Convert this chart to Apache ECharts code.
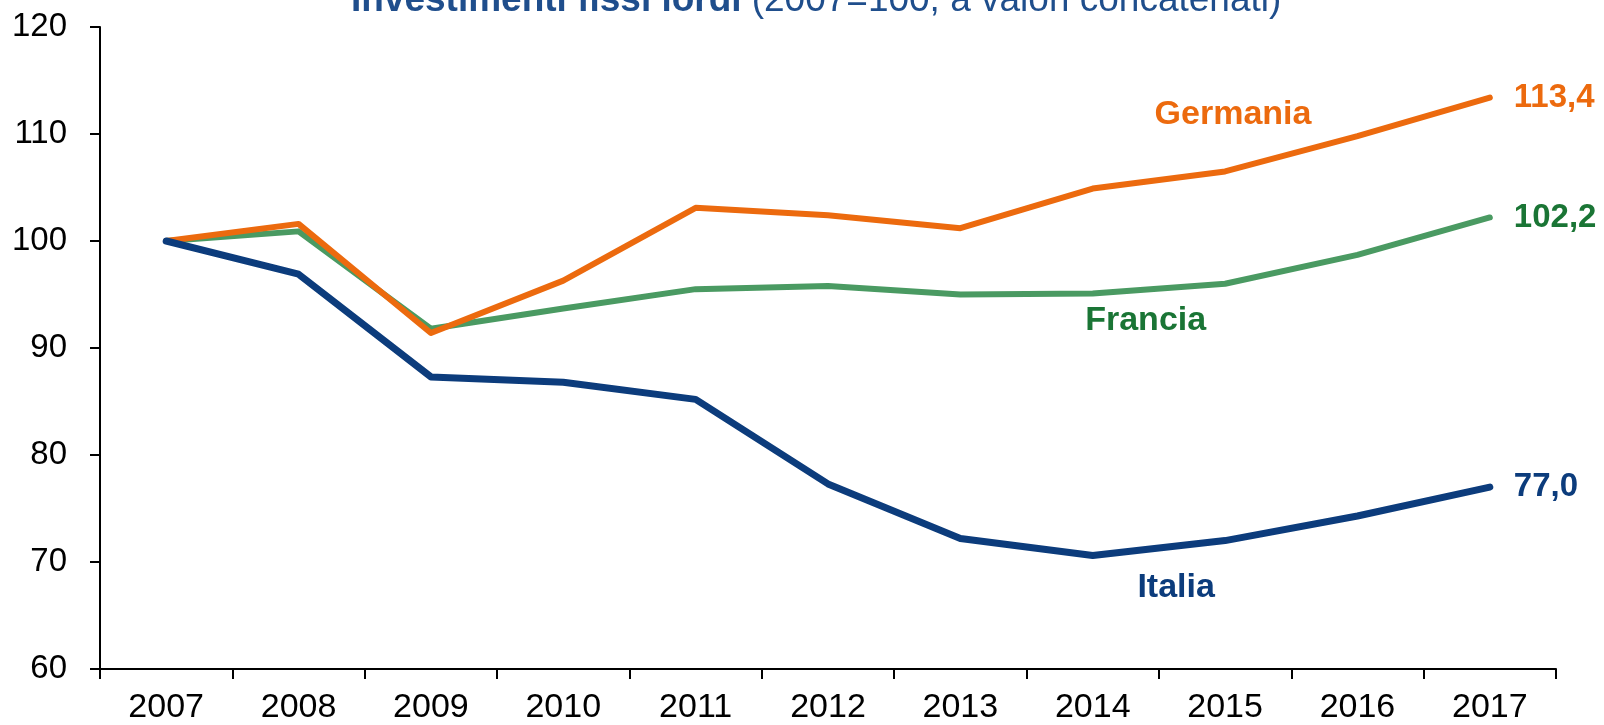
<html>
<head>
<meta charset="utf-8">
<script src="https://cdn.jsdelivr.net/npm/echarts@6/dist/echarts.min.js"></script>
<style>
  html, body { margin: 0; padding: 0; background: #fff; }
  #chart { width: 1604px; height: 725px; }
</style>
</head>
<body>
<div id="chart"></div>
<script>
var years = ['2007','2008','2009','2010','2011','2012','2013','2014','2015','2016','2017'];
var germania = [100, 101.6, 91.4, 96.3, 103.1, 102.4, 101.2, 104.9, 106.5, 109.8, 113.4];
var francia = [100, 100.9, 91.8, 93.7, 95.5, 95.8, 95.0, 95.1, 96.0, 98.7, 102.2];
var italia = [100, 96.9, 87.3, 86.8, 85.2, 77.3, 72.2, 70.6, 72.0, 74.3, 77.0];

var FONT = '"Liberation Sans", Arial, sans-serif';

// series name labels: [name, category index (fractional), value, colour]
var nameLabels = [
	['Germania', 8.06, 111.8, '#EC6A0E'],
	['Francia', 7.40, 92.55, '#1A7535'],
	['Italia', 7.63, 67.6, '#0C3C7C']
];

function fmt(v) {
	return v.toFixed(1).replace('.', ',');
}

function lineSeries(name, data, lineColor, textColor, width) {
	return {
		name: name,
		type: 'line',
		data: data,
		symbol: 'none',
		lineStyle: { color: lineColor, width: width, cap: 'round', join: 'round' },
		endLabel: {
			show: true,
			distance: 24,
			color: textColor,
			fontFamily: FONT,
			fontWeight: 'bold',
			fontSize: 33,
			formatter: function (p) { return fmt(p.value); }
		}
	};
}

var chart = echarts.init(document.getElementById('chart'));
var option = {
	animation: false,
	title: {
		text: '{b|Investimenti fissi lordi}  {n|(2007=100, a valori concatenati)}',
		left: 346,
		top: -23,
		textStyle: {
			rich: {
				b: { fontFamily: FONT, fontWeight: 'bold', fontSize: 37, color: '#1F4E8C' },
				n: { fontFamily: FONT, fontWeight: 'normal', fontSize: 37, color: '#1F4E8C' }
			}
		}
	},
	grid: { left: 100, right: 48, top: 27, bottom: 55 },
	xAxis: {
		type: 'category',
		data: years,
		boundaryGap: true,
		axisLine: { lineStyle: { color: '#000', width: 2 } },
		axisTick: { show: true, length: 10, lineStyle: { color: '#000', width: 2 } },
		axisLabel: { color: '#000', fontFamily: FONT, fontSize: 34, margin: 22 }
	},
	yAxis: {
		type: 'value',
		min: 60,
		max: 120,
		interval: 10,
		splitLine: { show: false },
		axisLine: { show: true, lineStyle: { color: '#000', width: 2 } },
		axisTick: { show: true, length: 10, lineStyle: { color: '#000', width: 2 } },
		axisLabel: { color: '#000', fontFamily: FONT, fontSize: 33, margin: 33 }
	},
	series: [
		lineSeries('Francia', francia, '#4A9A62', '#1A7535', 6),
		lineSeries('Germania', germania, '#EC6A0E', '#EC6A0E', 6),
		lineSeries('Italia', italia, '#0C3C7C', '#0C3C7C', 7)
	]
};
chart.setOption(option);

// place the series names between categories
function toPx(idx, val) {
	var i = Math.floor(idx);
	var a = chart.convertToPixel({ gridIndex: 0 }, [i, val]);
	var b = chart.convertToPixel({ gridIndex: 0 }, [i + 1, val]);
	return [a[0] + (b[0] - a[0]) * (idx - i), a[1]];
}
chart.setOption({
	graphic: nameLabels.map(function (l) {
		var p = toPx(l[1], l[2]);
		return {
			type: 'text',
			x: p[0],
			y: p[1],
			silent: true,
			style: {
				text: l[0],
				fill: l[3],
				font: 'bold 34px ' + FONT,
				textAlign: 'center',
				textVerticalAlign: 'middle'
			}
		};
	})
});
</script>
</body>
</html>
